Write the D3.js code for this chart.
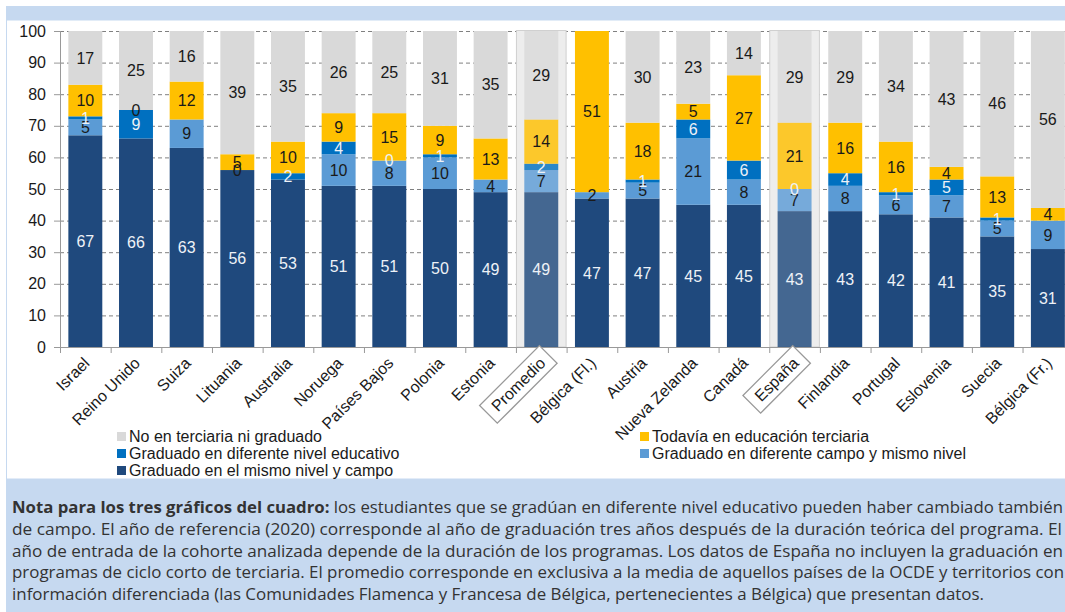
<!DOCTYPE html>
<html>
<head>
<meta charset="utf-8">
<script src="https://cdn.jsdelivr.net/npm/d3@7"></script>
<style>
  html, body { margin: 0; padding: 0; background: #ffffff; }
  svg { display: block; }
</style>
</head>
<body>
<svg id="chart" width="1065" height="612"></svg>
<script>
// ---------------- DATA ----------------
const categories = ["Israel", "Reino Unido", "Suiza", "Lituania", "Australia", "Noruega", "Países Bajos", "Polonia", "Estonia", "Promedio", "Bélgica (Fl.)", "Austria", "Nueva Zelanda", "Canadá", "España", "Finlandia", "Portugal", "Eslovenia", "Suecia", "Bélgica (Fr.)"];
const highlighted = ["Promedio", "España"];

const seriesNames = ["Graduado en el mismo nivel y campo", "Graduado en diferente campo y mismo nivel", "Graduado en diferente nivel educativo", "Todavía en educación terciaria", "No en terciaria ni graduado"];

const graduadoMismoNivelCampo = [67, 66, 63, 56, 53, 51, 51, 50, 49, 49, 47, 47, 45, 45, 43, 43, 42, 41, 35, 31];
const graduadoDiferenteCampo  = [5, null, 9, 0, null, 10, 8, 10, 4, 7, 2, 5, 21, 8, 7, 8, 6, 7, 5, 9];
const graduadoDiferenteNivel  = [1, 9, null, null, 2, 4, 0, 1, null, 2, null, 1, 6, 6, 0, 4, 1, 5, 1, null];
const todaviaEnTerciaria      = [10, 0, 12, 5, 10, 9, 15, 9, 13, 14, 51, 18, 5, 27, 21, 16, 16, 4, 13, 4];
const noEnTerciaria           = [17, 25, 16, 39, 35, 26, 25, 31, 35, 29, null, 30, 23, 14, 29, 29, 34, 43, 46, 56];

const yTicks = [0, 10, 20, 30, 40, 50, 60, 70, 80, 90, 100];

const noteBold = "Nota para los tres gráficos del cuadro:";
const noteLines = [
  " los estudiantes que se gradúan en diferente nivel educativo pueden haber cambiado también",
  "de campo. El año de referencia (2020) corresponde al año de graduación tres años después de la duración teórica del programa. El",
  "año de entrada de la cohorte analizada depende de la duración de los programas. Los datos de España no incluyen la graduación en",
  "programas de ciclo corto de terciaria. El promedio corresponde en exclusiva a la media de aquellos países de la OCDE y territorios con",
  "información diferenciada (las Comunidades Flamenca y Francesa de Bélgica, pertenecientes a Bélgica) que presentan datos."
];

// ---------------- STYLE ----------------
const colors = ["#1F497D", "#5B9BD5", "#0070C0", "#FFC000", "#D9D9D9"];
const darkText = [true, false, true, false, false];
const W = 1065, H = 612;
const FONT = "'Liberation Sans', Arial, sans-serif";

const svg = d3.select("#chart");

// frame
svg.append("rect").attr("x", 0).attr("y", 0).attr("width", W).attr("height", H).attr("fill", "#fff");
svg.append("rect").attr("x", 6).attr("y", 6).attr("width", W - 6).attr("height", 14).attr("fill", "#C6D9F0");
svg.append("rect").attr("x", 6.5).attr("y", 20).attr("width", W).attr("height", 459).attr("fill", "#fff").attr("stroke", "#C6D9F0").attr("stroke-width", 1);
svg.append("rect").attr("x", 6).attr("y", 479).attr("width", W - 6).attr("height", H - 479).attr("fill", "#C6D9F0");

// scales
const step = 50.66;
const x = d3.scaleBand().domain(categories).range([60, 60 + categories.length * step]).paddingInner(0.33).paddingOuter(0.165);
const y = d3.scaleLinear().domain([0, 100]).range([347, 31]).clamp(true);

// gridlines
svg.append("g").selectAll("line").data(yTicks.filter(d => d > 0)).join("line")
  .attr("x1", 60).attr("x2", W).attr("y1", d => y(d) + 0.5).attr("y2", d => y(d) + 0.5)
  .attr("stroke", "#808080").attr("stroke-width", 1).attr("stroke-dasharray", "4,3");

// highlight backgrounds
const bandStart = c => x(c) - x.step() * x.paddingInner() / 2;
svg.append("g").selectAll("rect").data(highlighted).join("rect")
  .attr("x", d => bandStart(d) + 0.5).attr("y", y(100) - 0.5)
  .attr("width", x.step() - 1).attr("height", y(0) - y(100) + 0.5)
  .attr("fill", "#EDEDED").attr("stroke", "#D0D0D0").attr("stroke-width", 1);

// stacking (percentages: the top segment closes the bar at 100 %)
const seriesData = [graduadoMismoNivelCampo, graduadoDiferenteCampo, graduadoDiferenteNivel, todaviaEnTerciaria, noEnTerciaria];
const rows = categories.map((c, i) => {
  const r = { cat: c };
  seriesNames.forEach((s, k) => r[s] = seriesData[k][i] == null ? 0 : seriesData[k][i]);
  return r;
});
const stack = d3.stack().keys(seriesNames)(rows);
const lastK = seriesNames.length - 1;
const segTop = (d, k, i) => (k === lastK && seriesData[k][i] != null) ? 100 : d[1];

const gBars = svg.append("g");
stack.forEach((layer, k) => {
  gBars.append("g").selectAll("rect").data(layer).join("rect")
    .attr("x", d => x(d.data.cat))
    .attr("width", x.bandwidth())
    .attr("y", (d, i) => y(segTop(d, k, i)))
    .attr("height", (d, i) => Math.max(0, y(d[0]) - y(segTop(d, k, i))))
    .attr("fill", colors[k])
    .attr("fill-opacity", d => highlighted.includes(d.data.cat) ? 0.82 : 1);
});

// labels
const gLab = svg.append("g").attr("font-family", FONT).attr("font-size", 16).attr("text-anchor", "middle");
stack.forEach((layer, k) => {
  layer.forEach((d, i) => {
    const v = seriesData[k][i];
    if (v == null) return;
    gLab.append("text")
      .attr("x", x(d.data.cat) + x.bandwidth() / 2)
      .attr("y", y((d[0] + segTop(d, k, i)) / 2))
      .attr("dy", "0.36em")
      .attr("fill", darkText[k] ? "#EEF2F7" : "#1a1a1a")
      .text(v);
  });
});

// y axis
const yAxis = svg.append("g");
yAxis.append("line").attr("x1", 60.5).attr("x2", 60.5).attr("y1", y(100)).attr("y2", y(0)).attr("stroke", "#999");
yAxis.selectAll("line.t").data(yTicks).join("line").attr("class", "t")
  .attr("x1", 54).attr("x2", 60).attr("y1", d => y(d) + 0.5).attr("y2", d => y(d) + 0.5).attr("stroke", "#999");
yAxis.selectAll("text").data(yTicks).join("text")
  .attr("x", 46).attr("y", d => y(d)).attr("dy", "0.35em")
  .attr("text-anchor", "end").attr("font-family", FONT).attr("font-size", 16).attr("fill", "#1a1a1a")
  .text(d => d);

// x axis
const xAxis = svg.append("g");
xAxis.append("line").attr("x1", 60).attr("x2", W).attr("y1", y(0) + 0.5).attr("y2", y(0) + 0.5).attr("stroke", "#999");
xAxis.selectAll("line.t").data(d3.range(categories.length + 1)).join("line").attr("class", "t")
  .attr("x1", i => 60 + i * x.step() + 0.5).attr("x2", i => 60 + i * x.step() + 0.5)
  .attr("y1", y(0)).attr("y2", y(0) + 6).attr("stroke", "#999");

const xl = xAxis.selectAll("g.lab").data(categories).join("g").attr("class", "lab")
  .attr("transform", c => `translate(${x(c) + x.bandwidth() / 2 - 3},${y(0) + 9}) rotate(-45)`);
xl.append("text")
  .attr("text-anchor", "end").attr("dy", "0.72em")
  .attr("font-family", FONT).attr("font-size", 16).attr("fill", "#1a1a1a")
  .text(c => c);
xl.filter(c => highlighted.includes(c)).each(function () {
  const g = d3.select(this);
  const bb = g.select("text").node().getBBox();
  g.insert("rect", "text")
    .attr("x", bb.x - 8).attr("y", bb.y - 4)
    .attr("width", bb.width + 16).attr("height", bb.height + 8)
    .attr("fill", "#fff").attr("stroke", "#999").attr("stroke-width", 1.3);
});

// legend
const legendItems = [
  { name: "No en terciaria ni graduado", k: 4, x: 117, y: 442 },
  { name: "Graduado en diferente nivel educativo", k: 2, x: 117, y: 459 },
  { name: "Graduado en el mismo nivel y campo", k: 0, x: 117, y: 476 },
  { name: "Todavía en educación terciaria", k: 3, x: 640, y: 442 },
  { name: "Graduado en diferente campo y mismo nivel", k: 1, x: 640, y: 459 }
];
const lg = svg.append("g").selectAll("g").data(legendItems).join("g");
lg.append("rect").attr("x", d => d.x).attr("y", d => d.y - 10).attr("width", 9).attr("height", 9).attr("fill", d => colors[d.k]);
lg.append("text").attr("x", d => d.x + 12).attr("y", d => d.y)
  .attr("font-family", FONT).attr("font-size", 16).attr("fill", "#1a1a1a").text(d => d.name);

// note
const noteG = svg.append("g").attr("font-family", "'Open Sans', sans-serif").attr("font-size", 15.5).attr("fill", "#333");
const lineRights = [1063, 1062, 1063, 1064, 984];
noteLines.forEach((ln, i) => {
  const t = noteG.append("text").attr("x", 12).attr("y", 513 + i * 21.8)
    .attr("textLength", lineRights[i] - 12).attr("lengthAdjust", "spacingAndGlyphs");
  if (i === 0) t.append("tspan").attr("font-weight", "bold").text(noteBold);
  t.append("tspan").text(ln);
});
</script>
</body>
</html>
